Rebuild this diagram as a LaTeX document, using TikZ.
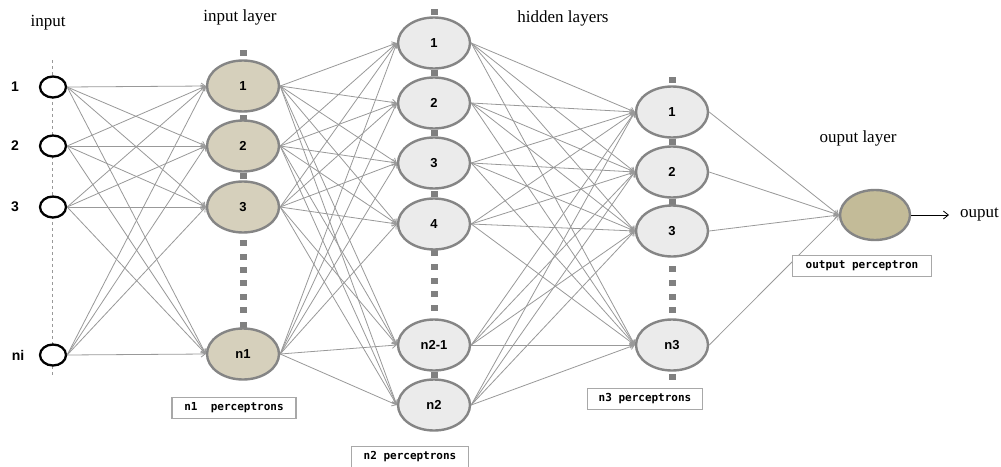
\documentclass[tikz,border=0pt]{standalone}
\usepackage{fontspec}
\setmainfont{Liberation Serif}
\newfontfamily\numfont{Liberation Sans}
\newfontfamily\boxfont{DejaVu Sans Mono}
\usetikzlibrary{shapes.geometric,arrows.meta}
\definecolor{beige}{HTML}{D6D0BC}
\definecolor{hidgray}{HTML}{EBEBEB}
\definecolor{outcol}{HTML}{C3BB98}
\definecolor{bordergray}{HTML}{858585}
\definecolor{linegray}{HTML}{999999}
\definecolor{sqgray}{HTML}{808080}
\definecolor{boxgray}{HTML}{A8A8A8}
\begin{document}
\begin{tikzpicture}[x=1pt,y=-1pt,
  inp/.style={ellipse,draw=black,line width=2.3pt,fill=white,minimum width=26pt,minimum height=21pt,inner sep=0pt},
  neuron/.style={ellipse,draw=bordergray,line width=2.4pt,minimum width=72pt,minimum height=51pt,inner sep=0pt,font=\numfont\bfseries\fontsize{13}{13}\selectfont},
  il/.style={neuron,fill=beige},
  hl/.style={neuron,fill=hidgray},
  ol/.style={neuron,fill=outcol,minimum width=70pt,minimum height=50pt},
  conn/.style={draw=linegray,line width=0.8pt,-{Straight Barb[length=4pt,width=6pt]}},
  sqr/.style={fill=sqgray},
  captxt/.style={font=\fontsize{17}{17}\selectfont},
  pbox/.style={draw=boxgray,line width=1.2pt,fill=white,inner sep=0pt,minimum height=21pt,font=\boxfont\bfseries\fontsize{11}{11}\selectfont},
  lab/.style={font=\numfont\bfseries\fontsize{14}{14}\selectfont}
]
\useasboundingbox (0,0) rectangle (1001,466);
\fill[white] (0,0) rectangle (1001,466);

% captions
\node[captxt] (tin) at (48,23) {input};
\node[captxt] (til) at (240,17) {input layer};
\node[captxt] (thl) at (563,18) {hidden layers};
\node[captxt] (tol) at (858,138) {ouput layer};

% dashed line at inputs
\coordinate (dtop) at (52,60);
\coordinate (dbot) at (52,375);
\draw[linegray,dashed,line width=1pt] (dtop) -- (dbot);

% gray squares (dots)
\foreach \x/\y in {243/53,243/118,243/176,243/243,243/257,243/270,243/283,243/297,243/310,243/325,
  434/12,434/73,434/133,434/194,434/253,434/267,434/281,434/294,434/308,434/375,
  672/80,672/142,672/202,672/269,672/283,672/297,672/310,672/377}
  \fill[sqr] (\x-3.5,\y-3) rectangle (\x+3.5,\y+3);

% input labels
\node[lab] (l1) at (15,87) {1};
\node[lab] (l2) at (15,146) {2};
\node[lab] (l3) at (15,207) {3};
\node[lab] (lni) at (18,355) {ni};

% input circles
\node[inp] (i1) at (53,87) {};
\node[inp] (i2) at (53,146) {};
\node[inp] (i3) at (53,207) {};
\node[inp] (ini) at (53,355) {};

% input layer
\node[il] (a1) at (243,86) {1};
\node[il] (a2) at (243,146) {2};
\node[il] (a3) at (243,207) {3};
\node[il] (an) at (243,354) {n1};

% hidden layer 1
\node[hl] (b1) at (434,43) {1};
\node[hl] (b2) at (434,103) {2};
\node[hl] (b3) at (434,163) {3};
\node[hl] (b4) at (434,224) {4};
\node[hl] (b5) at (434,345) {n2-1};
\node[hl] (b6) at (434,405) {n2};

% hidden layer 2
\node[hl] (c1) at (672,112) {1};
\node[hl] (c2) at (672,172) {2};
\node[hl] (c3) at (672,231) {3};
\node[hl] (cn) at (672,345) {n3};

% output
\node[ol] (o) at (875,215) {};
\node[captxt,anchor=west,inner sep=1pt] (olab) at (959,215) {ouput};

% connections
\foreach \s in {i1,i2,i3,ini}
  \foreach \t in {a1,a2,a3,an}
    \draw[conn] (\s.east) -- (\t.west);
\foreach \s in {a1,a2,a3,an}
  \foreach \t in {b1,b2,b3,b4,b5,b6}
    \draw[conn] (\s.east) -- (\t.west);
\foreach \s in {b1,b2,b3,b4,b5,b6}
  \foreach \t in {c1,c2,c3,cn}
    \draw[conn] (\s.east) -- (\t.west);
\foreach \s in {c1,c2,c3,cn}
  \draw[conn] (\s.east) -- (o.west);
\draw[black,line width=0.8pt,-{Straight Barb[length=5pt,width=8pt]}] (o.east) -- ([xshift=-10pt]olab.west);

% boxes
\node[pbox,minimum width=124pt] (p1) at (234,408) {n1\ \ perceptrons};
\node[pbox,minimum width=117pt] (p2) at (410,457) {n2 perceptrons};
\node[pbox,minimum width=115pt] (p3) at (645,399) {n3 perceptrons};
\node[pbox,minimum width=139pt] (p4) at (862,266) {output perceptron};
\end{tikzpicture}
\end{document}
